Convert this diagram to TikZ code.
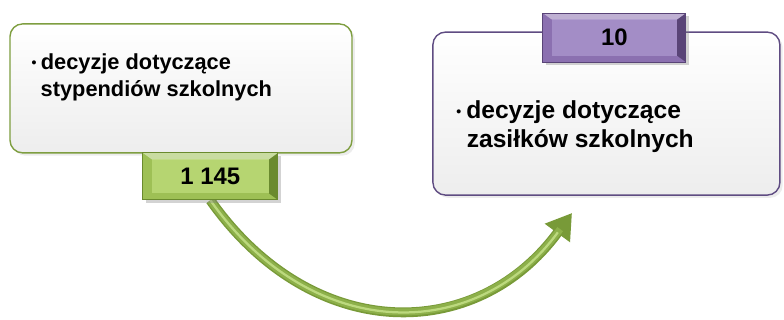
\documentclass[tikz,border=0pt]{standalone}
\usepackage{fontspec}
\setmainfont{Liberation Sans}
\usetikzlibrary{positioning,arrows.meta,shadows,backgrounds}

\definecolor{boxgreen}{HTML}{7E9E40}
\definecolor{numgreen}{HTML}{9EC055}
\definecolor{numgreenin}{HTML}{B6D571}
\definecolor{numgreendark}{HTML}{6A8A2E}
\definecolor{boxpurple}{HTML}{5F4C82}
\definecolor{numpurple}{HTML}{8B70B0}
\definecolor{numpurplein}{HTML}{A38DC6}
\definecolor{numpurpledark}{HTML}{594477}
\definecolor{arrowgreen}{HTML}{8DB04A}
\definecolor{arrowdark}{HTML}{789A38}
\definecolor{arrowlight}{HTML}{BCD97E}

\newcommand{\smallbullet}{\raisebox{0.08em}{\fontsize{10}{10}\selectfont\textbullet}\hspace{0.2em}}

\tikzset{
  infobox/.style={draw=#1, line width=1pt, rounded corners=9pt,
    top color=white, bottom color=black!7,
    drop shadow={opacity=0.15, shadow xshift=2pt, shadow yshift=-2pt}},
  numbox/.style n args={3}{draw=#3, line width=0.6pt, fill=#1,
    drop shadow={opacity=0.35, shadow xshift=2pt, shadow yshift=-2pt},
    font=\bfseries\fontsize{17}{19}\selectfont,
    path picture={
      \fill[#2] ([shift={(0.22,-0.16)}]path picture bounding box.north west)
        rectangle ([shift={(-0.22,0.16)}]path picture bounding box.south east);
      \fill[#3] (path picture bounding box.north east)
        -- ([shift={(-0.22,-0.16)}]path picture bounding box.north east)
        -- ([shift={(-0.22,0.16)}]path picture bounding box.south east)
        -- (path picture bounding box.south east) -- cycle;
      \fill[white, opacity=0.45] (path picture bounding box.north west)
        -- (path picture bounding box.north east)
        -- ([shift={(-0.22,-0.16)}]path picture bounding box.north east)
        -- ([shift={(0.22,-0.16)}]path picture bounding box.north west) -- cycle;
    }},
  infotext/.style 2 args={anchor=north west, inner sep=0pt, align=left,
    font=\bfseries\fontsize{#1}{#2}\selectfont},
}

\begin{document}
\begin{tikzpicture}
  \useasboundingbox (0,0) rectangle (19.6,8);

  % left box
  \node[infobox=boxgreen, minimum width=8.55cm, minimum height=3.225cm] (stypbox) at (4.525,5.79) {};
  \node[infotext={15.5}{19.5}] (stypteks) at ([shift={(0.55,-0.75)}]stypbox.north west)
    {\smallbullet decyzje dotyczące\\\hspace*{0.42em}stypendiów szkolnych};
  \node[numbox={numgreen}{numgreenin}{numgreendark}, minimum width=3.375cm, minimum height=1.175cm] (num1) at (5.26,3.59) {1 145};

  % right box
  \node[infobox=boxpurple, minimum width=8.675cm, minimum height=4.075cm] (zasbox) at (15.16,5.16) {};
  \node[infotext={17.5}{21}] (zasteks) at ([shift={(0.6,-1.72)}]zasbox.north west)
    {\smallbullet decyzje dotyczące\\\hspace*{0.42em}zasiłków szkolnych};
  \node[numbox={numpurple}{numpurplein}{numpurpledark}, minimum width=3.575cm, minimum height=1.225cm] (num2) at (15.36,7.06) {10};

  % arrow
  \coordinate (tip) at (14.3,2.675);
  \begin{scope}[on background layer]
    \draw[arrowdark, line width=7pt, -{Triangle[length=0.62cm,width=0.74cm]}]
      (num1.south) .. controls (7.8,-0.6) and (11.9,-0.6) .. (tip);
    \draw[arrowgreen, line width=5pt, shorten >=0.5cm]
      (num1.south) .. controls (7.8,-0.6) and (11.9,-0.6) .. (tip);
    \draw[arrowlight, line width=1.6pt, shorten >=0.6cm]
      (num1.south) .. controls (7.8,-0.6) and (11.9,-0.6) .. (tip);
  \end{scope}
\end{tikzpicture}
\end{document}
